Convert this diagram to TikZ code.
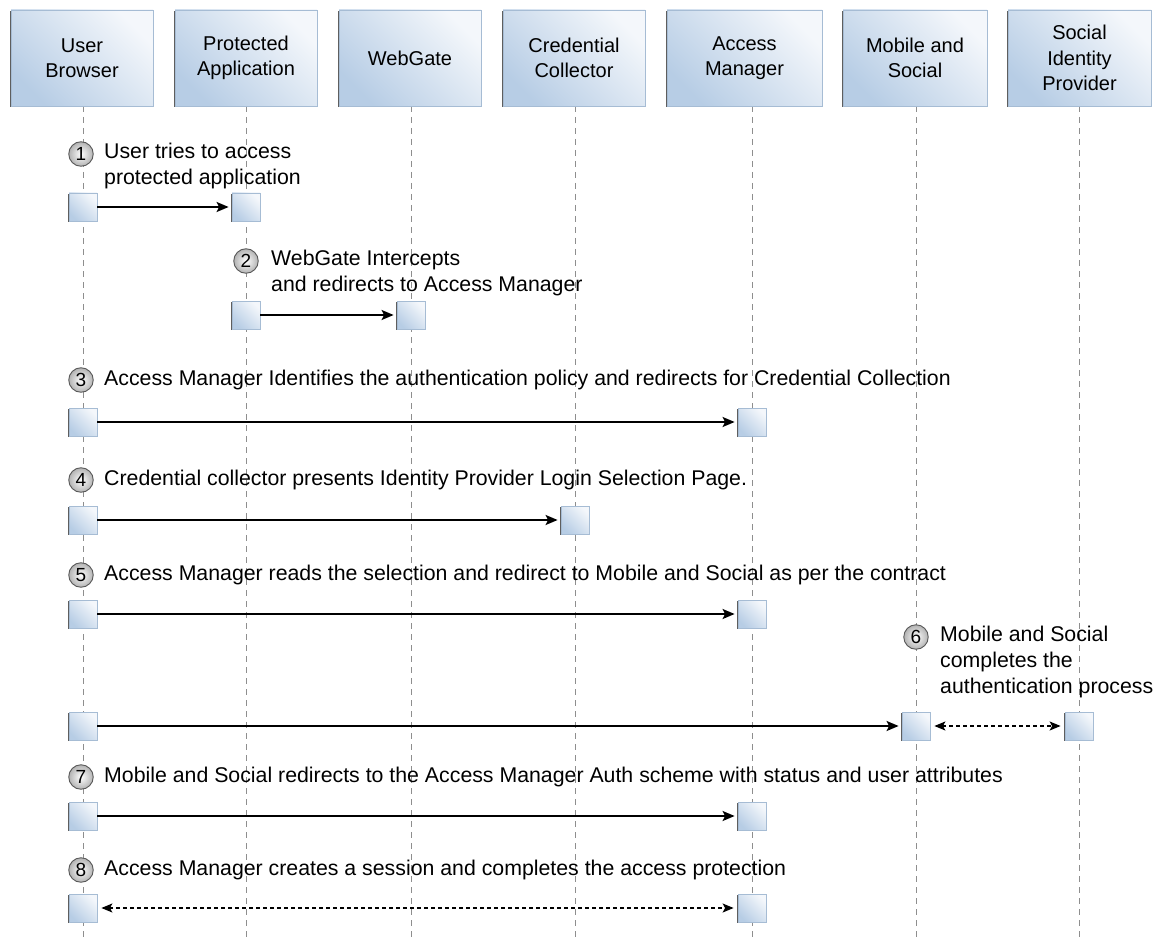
\documentclass[tikz,border=0pt]{standalone}
\usepackage{fontspec}
\setmainfont{Liberation Sans}
\usetikzlibrary{arrows.meta,shadows}
\definecolor{hdark}{HTML}{B7CDE5}
\definecolor{hlight}{HTML}{F4F7FB}
\definecolor{hborder}{HTML}{A6BCD4}
\definecolor{lifegray}{HTML}{8E8E8E}
\begin{document}
\begin{tikzpicture}[x=1pt,y=-1pt,
  header/.style={draw=hborder, line width=0.8pt, left color=hdark, right color=hlight, shading angle=135,
    minimum height=96pt, minimum width=142pt, inner sep=0pt, align=center,
    font=\fontsize{20}{25.5}\selectfont,
    drop shadow={shadow xshift=-1.1pt, shadow yshift=-1.3pt, fill=black!70, opacity=0.9}},
  act/.style={draw=hborder, line width=0.8pt, left color=hdark, right color=hlight, shading angle=135,
    minimum size=28pt, inner sep=0pt,
    drop shadow={shadow xshift=-0.8pt, shadow yshift=-1.3pt, fill=black!70, opacity=0.9}},
  lifeline/.style={draw=lifegray, line width=0.9pt, dash pattern=on 6pt off 5pt},
  msg/.style={line width=1.9pt, -{Stealth[length=12pt,width=10pt,inset=2.5pt]}, shorten >=3pt},
  dmsg/.style={line width=1.3pt, dash pattern=on 4pt off 3pt, {Stealth[length=11pt,width=9pt,inset=2.5pt]}-{Stealth[length=11pt,width=9pt,inset=2.5pt]}, shorten >=4pt, shorten <=4pt},
  num/.style={circle, draw=black!65, line width=0.9pt, inner color=white, outer color=black!30,
    minimum size=24.5pt, inner sep=0pt, font=\fontsize{19}{19}\selectfont},
  lbl/.style={anchor=west, inner sep=0pt, align=left, font=\fontsize{21.3}{26}\selectfont}
]
\useasboundingbox (0,0) rectangle (1163,939);

% lifelines
\coordinate (l1) at (83,106);  \coordinate (e1) at (83,939);
\coordinate (l2) at (246,106); \coordinate (e2) at (246,939);
\coordinate (l3) at (411,106); \coordinate (e3) at (411,939);
\coordinate (l4) at (575,106); \coordinate (e4) at (575,939);
\coordinate (l5) at (752,106); \coordinate (e5) at (752,939);
\coordinate (l6) at (916,106); \coordinate (e6) at (916,939);
\coordinate (l7) at (1079,106); \coordinate (e7) at (1079,939);
\foreach \i in {1,...,7} {\draw[lifeline] (l\i) -- (e\i);}

% headers
\node[header] (h1) at (82,58) {User\\Browser};
\node[header] (h2) at (246,58) {Protected\\Application};
\node[header] (h3) at (410,58) {WebGate};
\node[header] (h4) at (574,58) {Credential\\Collector};
\node[header, minimum width=155pt] (h5) at (744.5,58) {Access\\Manager};
\node[header, minimum width=144pt] (h6) at (915,58) {Mobile and\\Social};
\node[header, minimum width=143pt] (h7) at (1079.5,58) {Social\\Identity\\Provider};

% step 1
\node[num] (n1) at (81,154) {1};
\node[lbl] (t1) at (104,166) {User tries to access\\protected application};
\node[act] (a1) at (83,207) {};
\node[act] (b1) at (246,207) {};
\draw[msg] (a1.east) -- (b1.west);

% step 2
\node[num] (n2) at (246,261) {2};
\node[lbl] (t2) at (271,273) {WebGate Intercepts\\and redirects to Access Manager};
\node[act] (a2) at (246,315) {};
\node[act] (b2) at (411,315) {};
\draw[msg] (a2.east) -- (b2.west);

% step 3
\node[num] (n3) at (81,380) {3};
\node[lbl] (t3) at (104,380) {Access Manager Identifies the authentication policy and redirects for Credential Collection};
\node[act] (a3) at (83,422) {};
\node[act] (b3) at (752,422) {};
\draw[msg] (a3.east) -- (b3.west);

% step 4
\node[num] (n4) at (81,480) {4};
\node[lbl] (t4) at (104,480) {Credential collector presents Identity Provider Login Selection Page.};
\node[act] (a4) at (83,520) {};
\node[act] (b4) at (575,520) {};
\draw[msg] (a4.east) -- (b4.west);

% step 5
\node[num] (n5) at (81,575) {5};
\node[lbl] (t5) at (104,575) {Access Manager reads the selection and redirect to Mobile and Social as per the contract};
\node[act] (a5) at (83,614) {};
\node[act] (b5) at (752,614) {};
\draw[msg] (a5.east) -- (b5.west);

% step 6
\node[num] (n6) at (916,637) {6};
\node[lbl] (t6) at (940,662) {Mobile and Social\\completes the\\authentication process};
\node[act] (a6) at (83,726) {};
\node[act] (b6) at (916,726) {};
\node[act] (c6) at (1079,726) {};
\draw[msg] (a6.east) -- (b6.west);
\draw[dmsg] (b6.east) -- (c6.west);

% step 7
\node[num] (n7) at (81,777) {7};
\node[lbl] (t7) at (104,777) {Mobile and Social redirects to the Access Manager Auth scheme with status and user attributes};
\node[act] (a7) at (83,816) {};
\node[act] (b7) at (752,816) {};
\draw[msg] (a7.east) -- (b7.west);

% step 8
\node[num] (n8) at (81,870) {8};
\node[lbl] (t8) at (104,870) {Access Manager creates a session and completes the access protection};
\node[act] (a8) at (83,908) {};
\node[act] (b8) at (752,908) {};
\draw[dmsg] (a8.east) -- (b8.west);
\end{tikzpicture}
\end{document}
